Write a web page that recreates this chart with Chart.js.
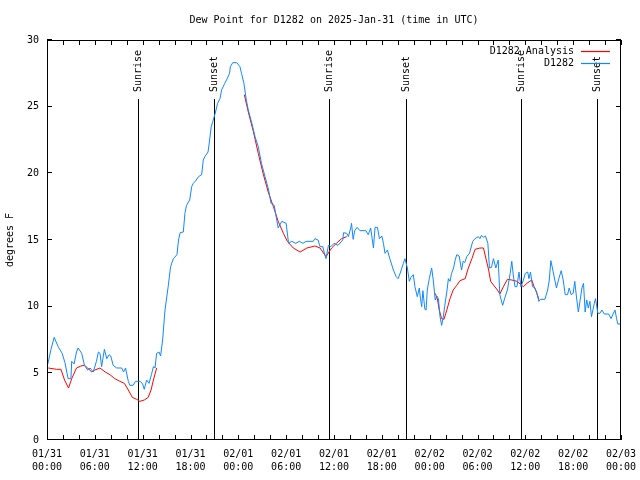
<!DOCTYPE html>
<html>
<head>
<meta charset="utf-8">
<script src="https://cdn.jsdelivr.net/npm/chart.js@4/dist/chart.umd.min.js"></script>
<style>
  body { margin: 0; background: #fff; }
  canvas { display: block; }
</style>
</head>
<body>
<canvas id="dewChart" width="640" height="480"></canvas>
<script>
// hours since 2025-01-31 00:00 UTC
var obsHours = [
  0.1, 0.5, 0.9, 1.4, 1.9, 2.25, 2.65, 3.0, 3.1, 3.4, 3.7, 3.9, 4.35, 4.7, 5.1, 5.4, 5.8, 6.2, 6.45, 6.65,
  6.85, 7.2, 7.5, 7.8, 8.0, 8.3, 8.75, 9.37, 9.6, 9.85, 10.2, 10.4, 10.8, 11.1, 11.7, 12.0, 12.2, 12.5, 12.8, 13.1,
  13.35, 13.55, 13.75, 14.05, 14.25, 14.5, 14.8, 15.2, 15.5, 15.85, 16.3, 16.5, 16.7, 17.1, 17.3, 17.5, 17.9, 18.15, 18.35, 18.6,
  19.0, 19.4, 19.6, 19.8, 20.2, 20.4, 20.6, 20.8, 21.1, 21.4, 21.7, 21.9, 22.3, 22.6, 22.9, 23.0, 23.3, 23.8, 24.2, 24.4,
  24.7, 25.0, 25.25, 25.7, 26.1, 26.5, 26.9, 27.35, 27.8, 28.1, 28.5, 28.7, 29.0, 29.45, 30.0, 30.3, 30.7, 31.2, 31.65, 32.1,
  32.5, 33.4, 33.6, 34.0, 34.25, 34.6, 34.75, 35.0, 35.3, 35.6, 36.0, 36.5, 37.1, 37.2, 37.6, 37.8, 38.1, 38.2, 38.4, 38.6,
  38.9, 39.25, 40.0, 40.3, 40.6, 40.95, 41.15, 41.45, 41.7, 42.0, 42.2, 42.4, 42.7, 43.0, 43.45, 43.8, 44.05, 44.35, 44.7, 44.9,
  45.2, 45.45, 45.65, 45.95, 46.15, 46.45, 46.7, 46.85, 47.0, 47.15, 47.4, 47.55, 47.7, 47.95, 48.25, 48.45, 48.7, 48.9, 49.1, 49.3,
  49.5, 49.7, 49.9, 50.15, 50.35, 50.55, 50.75, 51.0, 51.2, 51.4, 51.7, 52.0, 52.2, 52.4, 52.65, 53.0, 53.4, 53.7, 54.1, 54.3,
  54.5, 54.75, 55.0, 55.3, 55.5, 55.75, 56.0, 56.3, 56.6, 56.8, 57.15, 57.45, 57.75, 58.1, 58.3, 58.5, 58.7, 58.95, 59.2, 59.45,
  59.7, 60.0, 60.3, 60.45, 60.65, 60.9, 61.2, 61.45, 61.7, 61.9, 62.45, 62.8, 63.0, 63.2, 63.45, 63.7, 63.9, 64.2, 64.5, 64.75,
  65.0, 65.3, 65.5, 65.75, 66.0, 66.2, 66.4, 66.65, 66.85, 67.1, 67.3, 67.5, 67.7, 67.9, 68.1, 68.3, 68.65, 68.8, 69.1, 69.35,
  69.6, 69.9, 70.45, 70.75, 71.0, 71.25, 71.45, 71.6, 72.0
];
var obsDew = [
  5.7, 6.8, 7.7, 7.0, 6.5, 5.8, 4.6, 4.6, 5.9, 5.7, 6.6, 6.9, 6.5, 5.6, 5.25, 5.4, 5.1, 5.9, 6.6, 6.5,
  5.5, 6.8, 6.1, 6.4, 6.3, 5.6, 5.4, 5.4, 5.1, 5.4, 4.4, 4.1, 4.1, 4.4, 4.4, 4.2, 3.8, 4.5, 4.25, 4.9,
  5.5, 5.4, 6.5, 6.6, 6.3, 7.5, 9.75, 11.5, 13.0, 13.6, 13.9, 15.0, 15.55, 15.6, 17.0, 17.6, 18.0, 19.0, 19.25, 19.4,
  19.75, 19.9, 21.0, 21.25, 21.6, 22.5, 23.5, 23.9, 24.5, 25.25, 25.6, 26.25, 26.75, 27.1, 27.5, 28.0, 28.3, 28.3, 28.0, 27.5,
  26.75, 25.5, 24.75, 23.75, 22.75, 22.0, 20.75, 19.75, 18.75, 17.75, 17.6, 16.9, 15.9, 16.4, 16.25, 14.75, 14.9, 14.75, 14.9, 14.75,
  14.9, 14.9, 15.1, 15.0, 14.5, 14.5, 14.1, 13.6, 14.6, 14.5, 14.75, 14.6, 15.0, 15.55, 15.5, 15.25, 15.9, 16.25, 15.05, 15.7,
  15.95, 15.7, 15.7, 15.4, 15.9, 14.4, 15.95, 15.95, 15.1, 15.3, 14.75, 14.0, 14.25, 13.6, 12.75, 12.25, 12.1, 12.6, 13.25, 13.6,
  12.9, 11.9, 12.2, 12.4, 11.5, 10.75, 11.4, 10.6, 10.0, 11.2, 9.8, 9.75, 11.25, 12.1, 12.9, 12.0, 10.5, 10.8, 10.6, 9.25,
  8.6, 9.2, 10.1, 11.1, 12.1, 11.9, 12.5, 12.9, 13.5, 13.9, 13.8, 12.75, 13.4, 13.3, 13.75, 14.0, 14.9, 15.1, 15.25, 15.1,
  15.35, 15.2, 15.3, 14.75, 12.9, 12.95, 13.6, 12.9, 13.5, 10.9, 10.1, 10.7, 11.25, 12.5, 13.4, 12.3, 11.5, 11.5, 12.6, 11.5,
  11.9, 12.5, 12.6, 12.1, 12.6, 11.5, 11.4, 11.0, 10.4, 10.55, 10.55, 11.25, 12.0, 13.45, 12.75, 12.0, 11.4, 12.1, 12.7, 12.0,
  10.9, 10.9, 11.4, 10.9, 11.0, 11.9, 10.8, 9.6, 10.4, 11.4, 11.75, 9.6, 10.5, 9.9, 10.4, 9.25, 10.25, 10.6, 9.5, 9.5,
  9.75, 9.45, 9.45, 9.1, 9.45, 9.75, 9.1, 8.7, 8.7
];

// analysis series, null = gap
var anaHours = [
  0.16, 1.2, 1.75, 2.2, 2.7, 3.1, 3.7, 4.25, 4.7, 5.1, 5.6, 6.0, 6.65, 7.3, 7.9, 8.5, 9.15, 9.7, 10.2, 10.7,
  11.25, 11.65, 12.2, 12.7, 13.05, 13.35, 13.75, 19,
  24.75, 25.25, 25.9, 26.5, 27.1, 27.75, 28.4, 29.0, 29.65, 30.15, 30.9, 31.75, 32.6, 33.6, 34.25, 35.0, 35.7, 36.3,
  36.95, 37.6, 43,
  48.7, 49.0, 49.2, 49.5, 49.8, 50.15, 50.55, 50.95, 51.4, 51.8, 52.45, 52.85, 53.3, 53.7, 54.3, 54.75, 55.1, 55.4,
  55.65, 56.1, 56.5, 56.8, 57.25, 57.75, 58.3, 58.95, 59.55, 59.75, 60.2, 60.8, 61.1, 61.4, 61.7
];
var anaDew = [
  5.4, 5.3, 5.3, 4.5, 3.9, 4.6, 5.4, 5.55, 5.6, 5.4, 5.1, 5.25, 5.4, 5.1, 4.9, 4.6, 4.4, 4.25, 3.75, 3.2,
  3.05, 2.9, 3.0, 3.2, 3.75, 4.5, 5.4, null,
  25.9, 24.6, 23.1, 21.5, 20.0, 18.6, 17.5, 16.4, 15.5, 14.9, 14.4, 14.1, 14.4, 14.55, 14.4, 13.75, 14.4, 14.75,
  15.1, 15.25, null,
  11.0, 10.5, 9.75, 9.1, 9.05, 9.75, 10.6, 11.25, 11.6, 11.95, 12.1, 12.9, 13.6, 14.3, 14.4, 14.4, 13.5, 12.75,
  11.9, 11.55, 11.25, 10.95, 11.5, 12.05, 12.0, 11.9, 11.6, 11.5, 11.75, 12.0, 11.5, 11.1, 10.55
];

var sunNames = ['Sunrise', 'Sunset', 'Sunrise', 'Sunset', 'Sunrise', 'Sunset'];
var sunHours = [11.45, 21.0, 35.4, 45.0, 59.5, 69.0];

var tickDates = ['01/31', '01/31', '01/31', '01/31', '02/01', '02/01', '02/01', '02/01', '02/02', '02/02', '02/02', '02/02', '02/03'];
var tickTimes = ['00:00', '06:00', '12:00', '18:00', '00:00', '06:00', '12:00', '18:00', '00:00', '06:00', '12:00', '18:00', '00:00'];

var FONT = "'DejaVu Sans Mono', 'Liberation Mono', monospace";
var OBS_COLOR = '#0f88ff';
var ANA_COLOR = '#ff0000';

function toPoints(xs, ys) {
  var pts = [];
  for (var i = 0; i < xs.length; i++) pts.push({x: xs[i], y: ys[i]});
  return pts;
}

// gnuplot style frame, inward ticks, sunrise/sunset markers, legend
var gnuFrame = {
  id: 'gnuFrame',
  beforeDatasetsDraw: function(chart) {
    var ctx = chart.ctx, a = chart.chartArea, xs = chart.scales.x;
    ctx.save();
    ctx.strokeStyle = '#000';
    ctx.lineWidth = 1;
    ctx.fillStyle = '#000';
    ctx.font = '10px ' + FONT;
    for (var i = 0; i < sunHours.length; i++) {
      var px = Math.round(xs.getPixelForValue(sunHours[i])) + 0.5;
      ctx.beginPath();
      ctx.moveTo(px, 99);
      ctx.lineTo(px, a.bottom);
      ctx.stroke();
      ctx.save();
      ctx.translate(px, 92);
      ctx.rotate(-Math.PI / 2);
      ctx.textAlign = 'left';
      ctx.textBaseline = 'middle';
      ctx.fillText(sunNames[i], 0, 0);
      ctx.restore();
    }
    ctx.restore();
  },
  afterDraw: function(chart) {
    var ctx = chart.ctx, a = chart.chartArea;
    var xs = chart.scales.x, ys = chart.scales.y;
    ctx.save();
    ctx.strokeStyle = '#000';
    ctx.lineWidth = 1;
    ctx.strokeRect(a.left + 0.5, a.top + 0.5, a.right - a.left - 1, a.bottom - a.top - 1);
    ctx.beginPath();
    for (var h = 0; h <= 72; h += 2) {
      var px = Math.round(xs.getPixelForValue(h)) + 0.5;
      ctx.moveTo(px, a.bottom); ctx.lineTo(px, a.bottom - 5);
      ctx.moveTo(px, a.top); ctx.lineTo(px, a.top + 5);
    }
    ys.ticks.forEach(function(t) {
      var py = Math.round(ys.getPixelForValue(t.value)) - 0.5;
      ctx.moveTo(a.left, py); ctx.lineTo(a.left + 5, py);
      ctx.moveTo(a.right, py); ctx.lineTo(a.right - 5, py);
    });
    ctx.stroke();

    // legend, line sample to the right of the text
    ctx.font = '10px ' + FONT;
    ctx.textAlign = 'right';
    ctx.textBaseline = 'middle';
    var rows = [
      { label: chart.data.datasets[1].label, color: ANA_COLOR },
      { label: chart.data.datasets[0].label, color: OBS_COLOR }
    ];
    rows.forEach(function(row, i) {
      var y = 51 + i * 12;
      ctx.fillStyle = '#000';
      ctx.fillText(row.label, 574, y);
      ctx.strokeStyle = row.color;
      ctx.lineWidth = 1.2;
      ctx.beginPath();
      ctx.moveTo(581, y + 0.5);
      ctx.lineTo(610, y + 0.5);
      ctx.stroke();
    });
    ctx.restore();
  }
};

Chart.defaults.color = '#000';
Chart.defaults.font.family = FONT;
Chart.defaults.font.size = 10;

var ctx = document.getElementById('dewChart').getContext('2d');
var dewChart = new Chart(ctx, {
  type: 'line',
  data: {
    datasets: [{
      label: 'D1282',
      data: toPoints(obsHours, obsDew),
      borderColor: OBS_COLOR,
      borderWidth: 1,
      pointRadius: 0,
      order: 0
    }, {
      label: 'D1282 Analysis',
      data: toPoints(anaHours, anaDew),
      borderColor: ANA_COLOR,
      borderWidth: 1,
      pointRadius: 0,
      spanGaps: false,
      order: 1
    }]
  },
  options: {
    responsive: false,
    animation: false,
    layout: { padding: { right: 19 } },
    scales: {
      x: {
        type: 'linear',
        min: 0,
        max: 72,
        grid: { display: false, drawTicks: false },
        border: { display: false },
        ticks: {
          stepSize: 6,
          autoSkip: false,
          maxRotation: 0,
          padding: 8,
          font: { size: 10, lineHeight: 1.3 },
          callback: function(v) {
            var i = Math.round(v / 6);
            return [tickDates[i], tickTimes[i]];
          }
        },
        afterFit: function(scale) {
          scale.height = 40;
          scale.paddingLeft = 0;
          scale.paddingRight = 0;
        }
      },
      y: {
        min: 0,
        max: 30,
        grid: { display: false, drawTicks: false },
        border: { display: false },
        ticks: { stepSize: 5, padding: 8 },
        title: {
          display: true,
          text: 'degrees F',
          font: { size: 10, lineHeight: 1.2 },
          padding: { top: 4, bottom: 0 }
        },
        afterFit: function(scale) { scale.width = 47; }
      }
    },
    plugins: {
      legend: { display: false },
      tooltip: { enabled: false },
      title: {
        display: true,
        fullSize: false,
        text: 'Dew Point for D1282 on 2025-Jan-31 (time in UTC)',
        font: { size: 10, weight: 'normal', lineHeight: 1.2 },
        padding: { top: 14, bottom: 14 }
      }
    }
  },
  plugins: [gnuFrame]
});
</script>
</body>
</html>
